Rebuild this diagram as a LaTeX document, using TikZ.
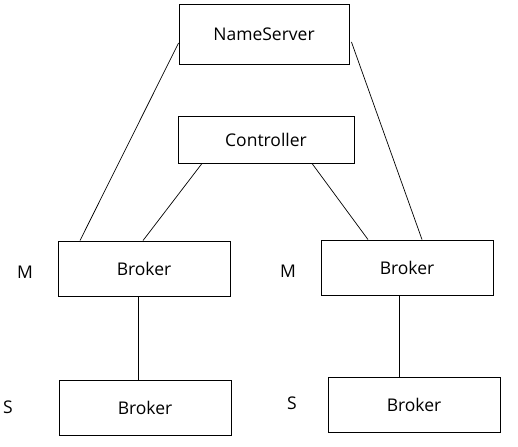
\documentclass[tikz,border=0pt]{standalone}
\usepackage{fontspec}
\setmainfont{Open Sans}
\begin{document}
\begin{tikzpicture}[x=1pt,y=-1pt,
  box/.style={draw=black,line width=0.9pt,rectangle,inner sep=0pt,minimum width=172pt,minimum height=55pt,font=\fontsize{17.5}{20}\selectfont},
  lbl/.style={inner sep=0pt,font=\fontsize{17.5}{20}\selectfont},
  link/.style={draw=black,line width=0.7pt}]
\useasboundingbox (0,0) rectangle (518,446);
\fill[white] (0,0) rectangle (518,446);
\node[box,minimum width=170pt,minimum height=60pt] (ns) at (264,34) {NameServer};
\node[box,minimum width=176pt,minimum height=47pt] (ctrl) at (266,139.5) {Controller};
\node[box] (bml) at (144,268.5) {Broker};
\node[box] (bmr) at (407,267.5) {Broker};
\node[box] (bsl) at (145,407.5) {Broker};
\node[box] (bsr) at (414,404.5) {Broker};
\node[lbl] (ml) at (25,272) {M};
\node[lbl] (mr) at (288,271) {M};
\node[lbl] (sl) at (8,407) {S};
\node[lbl] (sr) at (292,403) {S};
\draw[link] ([yshift=-9pt]ns.west) -- ([xshift=-64pt]bml.north);
\draw[link] ([xshift=2pt,yshift=-8pt]ns.east) -- ([xshift=15pt]bmr.north);
\draw[link] ([xshift=-64pt]ctrl.south) -- ([xshift=-1pt]bml.north);
\draw[link] ([xshift=46pt]ctrl.south) -- ([xshift=-39pt]bmr.north);
\draw[link] ([xshift=-6pt]bml.south) -- ([xshift=-7pt]bsl.north);
\draw[link] ([xshift=-8pt]bmr.south) -- ([xshift=-15pt]bsr.north);
\end{tikzpicture}
\end{document}
